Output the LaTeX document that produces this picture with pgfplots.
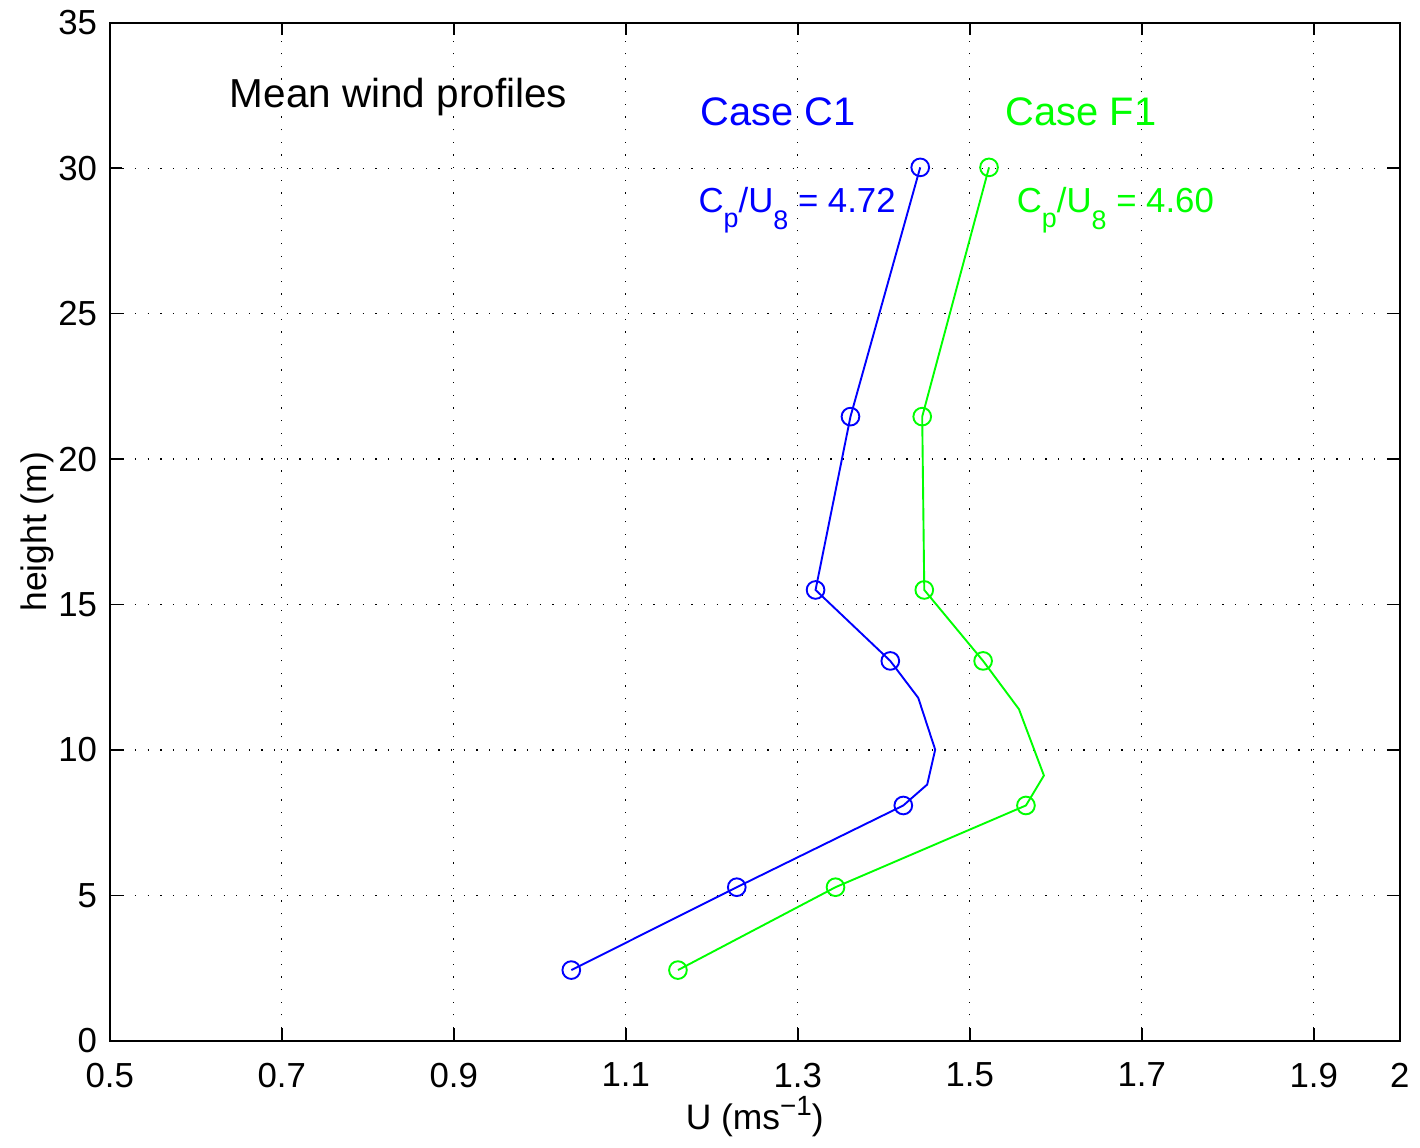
\documentclass[border=0pt]{standalone}
\usepackage{pgfplots}
\pgfplotsset{compat=1.18}
\usepackage{fontspec}
\setmainfont{Liberation Sans}
\definecolor{mblue}{rgb}{0,0,1}
\definecolor{mgreen}{rgb}{0,1,0}
\begin{document}
\begin{tikzpicture}[x=1pt,y=1pt]
\begin{axis}[
  at={(0,0)}, anchor=south west,
  scale only axis, width=408.1pt, height=322pt,
  xmin=0.5, xmax=2, ymin=0, ymax=35,
  xtick={0.5,0.7,0.9,1.1,1.3,1.5,1.7,1.9,2},
  xticklabels={0.5,0.7,0.9,1.1,1.3,1.5,1.7,1.9,2},
  ytick={0,5,10,15,20,25,30,35},
  tick align=inside, tick pos=both, major tick length=4pt,
  grid=major,
  major grid style={black, line width=0.4pt, dash pattern=on 0.4pt off 3.6pt},
  axis line style={line width=0.6pt},
  every tick/.style={black, line width=0.5pt},
  /pgf/number format/assume math mode=true,
  ticklabel style={font=\fontsize{11}{13}\selectfont},
  xticklabel style={yshift=-3.5pt},
  yticklabel style={xshift=-0.5pt},
  xlabel={U (ms\raisebox{4.7pt}{\fontsize{8.8}{9}\selectfont \char"2212 1})},
  ylabel={height (m)},
  xlabel style={at={(axis description cs:0.5,0)}, anchor=base, yshift=-28.2pt},
  ylabel style={at={(axis description cs:-0.0488,0.5)}, anchor=base},
  label style={font=\fontsize{11.2}{13}\selectfont},
  clip=false,
]
\addplot[mblue, line width=0.6pt, mark=o, mark size=2.8pt, mark options={solid}, mark indices={1,2,3,7,8,9,10}] coordinates {
(1.0367,2.43) (1.2291,5.28) (1.4227,8.09) (1.4505,8.81) (1.4598,10.01) (1.4401,11.79) (1.4076,13.06) (1.3207,15.50) (1.3613,21.46) (1.4424,30.03)};
\addplot[mgreen, line width=0.6pt, mark=o, mark size=2.8pt, mark options={solid}, mark indices={1,2,3,6,7,8,9}] coordinates {
(1.1607,2.43) (1.3439,5.28) (1.5653,8.09) (1.5862,9.12) (1.5572,11.40) (1.5155,13.06) (1.4471,15.50) (1.4447,21.46) (1.5224,30.03)};
\node[anchor=base west, inner sep=0pt, font=\fontsize{12.8}{15}\selectfont] at (axis cs:0.639,32.09) {Mean wind profiles};
\node[anchor=base west, inner sep=0pt, mblue, font=\fontsize{12.6}{15}\selectfont] at (axis cs:1.186,31.47) {Case C1};
\node[anchor=base west, inner sep=0pt, mgreen, font=\fontsize{12.6}{15}\selectfont] at (axis cs:1.541,31.47) {Case F1};
\node[anchor=base west, inner sep=0pt, mblue, font=\fontsize{11}{13}\selectfont] at (axis cs:1.184,28.49) {C\raisebox{-4.8pt}{\fontsize{8.5}{9}\selectfont p}/U\raisebox{-5.5pt}{\fontsize{8.5}{9}\selectfont 8} = 4.72};
\node[anchor=base west, inner sep=0pt, mgreen, font=\fontsize{11}{13}\selectfont] at (axis cs:1.554,28.49) {C\raisebox{-4.8pt}{\fontsize{8.5}{9}\selectfont p}/U\raisebox{-5.5pt}{\fontsize{8.5}{9}\selectfont 8} = 4.60};
\end{axis}
\path (-34.7,-31.9) rectangle (413.2,329.0);
\end{tikzpicture}
\end{document}
